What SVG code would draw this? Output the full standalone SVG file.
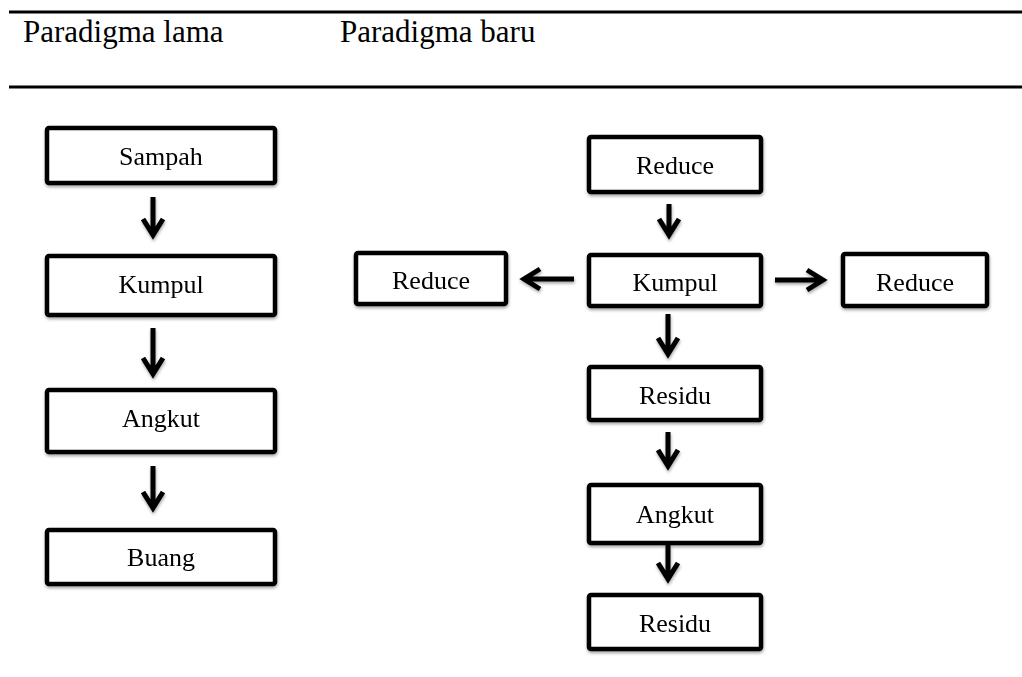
<svg xmlns="http://www.w3.org/2000/svg" width="1022" height="677" viewBox="0 0 1022 677">
<style>
.box{fill:#fff;stroke:#000;stroke-width:4.5}
.lbl{font-family:"Liberation Serif","Times New Roman",serif;font-size:26px;fill:#000;text-anchor:middle}
.ttl{font-family:"Liberation Serif","Times New Roman",serif;font-size:31px;fill:#000}
.arr{fill:none;stroke:#000;stroke-width:5;stroke-linejoin:miter;stroke-linecap:butt}
.rule{stroke:#000;stroke-width:3}
</style>
<defs>
<filter id="sh" x="-20%" y="-20%" width="140%" height="150%">
<feDropShadow dx="0.5" dy="2" stdDeviation="1.5" flood-color="#000" flood-opacity="0.35"/>
</filter>
</defs>
<rect width="1022" height="677" fill="#fff"/>
<g id="header">
<line class="rule" x1="9" y1="12" x2="1022" y2="12"/>
<line class="rule" x1="9" y1="87" x2="1022" y2="87"/>
<text class="ttl" x="23" y="42">Paradigma lama</text>
<text class="ttl" x="340" y="42">Paradigma baru</text>
</g>
<g id="old-sampah" filter="url(#sh)"><rect class="box" x="47" y="128" width="228" height="55" rx="2"/><text class="lbl" x="161" y="165">Sampah</text></g>
<g id="old-kumpul" filter="url(#sh)"><rect class="box" x="47" y="256" width="228" height="59" rx="2"/><text class="lbl" x="161" y="293">Kumpul</text></g>
<g id="old-angkut" filter="url(#sh)"><rect class="box" x="47" y="390" width="228" height="62" rx="2"/><text class="lbl" x="161" y="427">Angkut</text></g>
<g id="old-buang" filter="url(#sh)"><rect class="box" x="47" y="530" width="228" height="54" rx="2"/><text class="lbl" x="161" y="566">Buang</text></g>
<g id="new-reduce-top" filter="url(#sh)"><rect class="box" x="589" y="137" width="172" height="55" rx="2"/><text class="lbl" x="675" y="174">Reduce</text></g>
<g id="new-kumpul" filter="url(#sh)"><rect class="box" x="589" y="255" width="172" height="51" rx="2"/><text class="lbl" x="675" y="291">Kumpul</text></g>
<g id="new-reduce-left" filter="url(#sh)"><rect class="box" x="356" y="253" width="150" height="51" rx="2"/><text class="lbl" x="431" y="289">Reduce</text></g>
<g id="new-reduce-right" filter="url(#sh)"><rect class="box" x="843" y="254" width="144" height="52" rx="2"/><text class="lbl" x="915" y="291">Reduce</text></g>
<g id="new-residu1" filter="url(#sh)"><rect class="box" x="589" y="367" width="172" height="53" rx="2"/><text class="lbl" x="675" y="404">Residu</text></g>
<g id="new-angkut" filter="url(#sh)"><rect class="box" x="589" y="485" width="172" height="58" rx="2"/><text class="lbl" x="675" y="523">Angkut</text></g>
<g id="new-residu2" filter="url(#sh)"><rect class="box" x="589" y="595" width="172" height="54" rx="2"/><text class="lbl" x="675" y="632">Residu</text></g>
<g id="connectors" filter="url(#sh)">
<path class="arr" d="M153 197V235M143 219L153 235L163 219"/>
<path class="arr" d="M153 328V374M143 358L153 374L163 358"/>
<path class="arr" d="M153 466V508M143 492L153 508L163 492"/>
<path class="arr" d="M669 204V235M659 219L669 235L679 219"/>
<path class="arr" d="M668 314V354M658 338L668 354L678 338"/>
<path class="arr" d="M668 432V466M658 450L668 466L678 450"/>
<path class="arr" d="M668 545V579M658 563L668 579L678 563"/>
<path class="arr" d="M574 279H524M540 269L524 279L540 289"/>
<path class="arr" d="M775 280H823M807 270L823 280L807 290"/>
</g>
</svg>
